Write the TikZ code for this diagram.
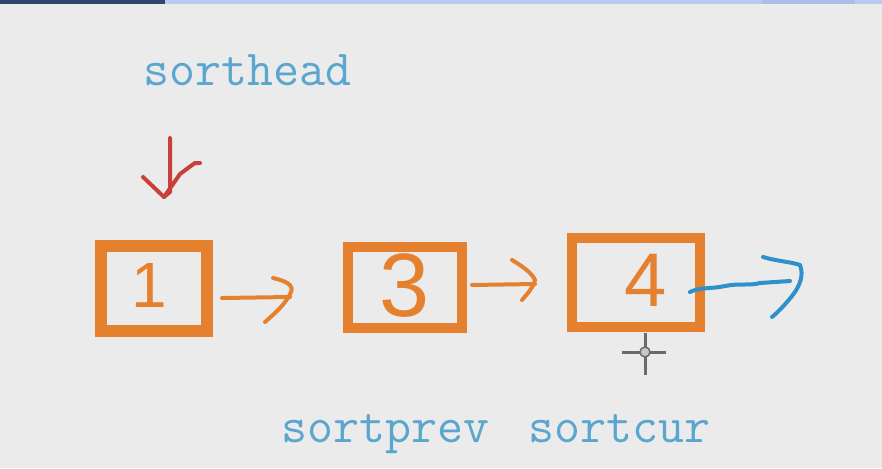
\documentclass[tikz,border=0pt]{standalone}
\usepackage{fontspec}
\newfontfamily\digitfont{Liberation Sans}
\usetikzlibrary{calc}
\definecolor{bgcol}{HTML}{EBEBEB}
\definecolor{boxorange}{HTML}{E5802F}
\definecolor{labelblue}{HTML}{5AA6CE}
\definecolor{penblue}{HTML}{2F90CC}
\definecolor{penred}{HTML}{C8403C}
\definecolor{barnavy}{HTML}{2F4673}
\definecolor{barblue}{HTML}{B6CAF2}
\definecolor{barblueb}{HTML}{A9BEEA}
\definecolor{cursorgray}{HTML}{6A6A6A}
\definecolor{cursorlight}{HTML}{C8C8C8}
\begin{document}
\begin{tikzpicture}[x=1pt,y=-1pt,
  listbox/.style={draw=boxorange, inner sep=0pt},
  digit/.style={text=boxorange, inner sep=0pt},
  varlabel/.style={text=labelblue, font=\ttfamily\fontsize{50.5}{50.5}\selectfont, inner sep=0pt, anchor=base west},
  pen/.style={line width=4pt, line cap=round, line join=round},
  cursorline/.style={draw=cursorgray, line width=3pt}]
\useasboundingbox (0,0) rectangle (882,468);
\fill[bgcol] (0,0) rectangle (882,468);
\fill[barnavy] (0,0) rectangle (165,4);
\fill[barblue] (165,0) rectangle (882,4);
\fill[barblueb] (762,0) rectangle (855,4);

% list boxes
\node[listbox, line width=12pt, minimum width=106pt, minimum height=85pt] (b1) at (154,288.5) {};
\node[listbox, line width=10pt, minimum width=114pt, minimum height=81pt] (b2) at (405,287.5) {};
\node[listbox, line width=10pt, minimum width=128pt, minimum height=89pt] (b3) at (636,282.5) {};

% digits
\node[digit, font=\digitfont\fontsize{64}{64}\selectfont] (d1) at (149,285) {1};
\node[digit, font=\digitfont\fontsize{90}{90}\selectfont] (d2) at (405,286) {3};
\node[digit, font=\digitfont\fontsize{76}{76}\selectfont] (d3) at (646,280) {4};

% labels
\node[varlabel] (lhead) at (143,85) {sorthead};
\node[varlabel] (lprev) at (281,442) {sortprev};
\node[varlabel] (lcur) at (528,442) {sortcur};

% red pointer from sorthead to box 1
\coordinate (redtop) at (170,138);
\coordinate (redtip) at (164,197);
\draw[pen, penred] (redtop) -- (170,192) -- (redtip);
\draw[pen, penred] (143,177) -- (redtip) -- (180,174) -- (188,168) -- (195,163) -- (200,163);

% orange arrow box1 -> box2
\coordinate (a1tip) at (290,297);
\draw[pen, boxorange] ($(b1.east)+(9,9.5)$) -- (a1tip);
\draw[pen, boxorange] (273,278) .. controls (286,281) and (294,285) .. (291,292) .. controls (286,304) and (274,314) .. (265,322);

% orange arrow box2 -> box3
\coordinate (a2tip) at (535,284);
\draw[pen, boxorange] ($(b2.east)+(5,-2.5)$) -- (a2tip);
\draw[pen, boxorange] (512,260) .. controls (522,266) and (532,273) .. (535,280) .. controls (533,288) and (527,294) .. (522,300);

% blue arrow out of box 3
\coordinate (a3tip) at (790,281);
\draw[pen, penblue] ($(b3.east)+(-15,9.5)$) .. controls (700,287) and (712,289) .. (725,286) .. controls (740,283) and (750,286) .. (760,283) -- (a3tip);
\draw[pen, penblue] (763,257) .. controls (776,261) and (792,262) .. (800,265) .. controls (804,275) and (800,286) .. (792,296) .. controls (784,306) and (777,313) .. (772,317);

% mouse cursor crosshair
\coordinate (cur) at (645,352);
\draw[cursorline] ($(cur)+(0,-19)$) -- ($(cur)+(0,23)$);
\draw[cursorline] ($(cur)+(-23,0)$) -- ($(cur)+(21,0)$);
\draw[cursorgray, fill=cursorlight, line width=1.5pt] (cur) circle (5);
\end{tikzpicture}
\end{document}
